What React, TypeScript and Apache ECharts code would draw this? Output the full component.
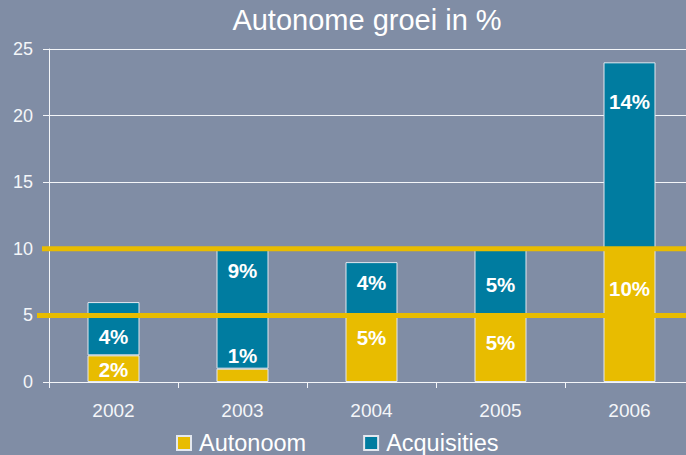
import React, { useEffect, useRef } from "react";
import * as echarts from "echarts";

const years = ["2002", "2003", "2004", "2005", "2006"];
const autonoom = [2, 1, 5, 5, 10];
const acquisities = [4, 9, 4, 5, 14];
const autonoomLabels = ["2%", "1%", "5%", "5%", "10%"];
const acquisitiesLabels = ["4%", "9%", "4%", "5%", "14%"];
const yTicks = [0, 5, 10, 15, 20, 25];
const referenceLevels = [10, 5];

// label vertical nudges (style only)
const autonoomLabelShift = [1, -20, -11, -6, -27];
const acquisitiesLabelShift = [8, -38, -6, 2, -54];

const BG = "#808DA5";
const YELLOW = "#E8BC00";
const TEAL = "#007CA0";
const FONT = 'Arial, "Liberation Sans", sans-serif';

export default function App() {
  const ref = useRef<HTMLDivElement>(null);

  useEffect(() => {
    document.body.style.margin = "0";
    document.body.style.overflow = "hidden";
    if (!ref.current) return;
    const chart = echarts.init(ref.current, undefined, { renderer: "svg" });

    const labelBase = {
      show: true,
      position: "inside",
      color: "#ffffff",
      fontSize: 20.5,
      fontWeight: "bold",
      fontFamily: FONT,
    };

    chart.setOption({
      animation: false,
      backgroundColor: BG,
      textStyle: { fontFamily: FONT },
      title: {
        text: "Autonome groei in %",
        left: 362,
        textAlign: "center",
        top: 0,
        textStyle: { color: "#ffffff", fontSize: 29, fontWeight: "normal", fontFamily: FONT },
      },
      legend: {
        left: 176,
        top: 431,
        padding: 0,
        itemWidth: 14,
        itemHeight: 14,
        itemGap: 57,
        icon: "rect",
        textStyle: { color: "#ffffff", fontSize: 23.5, fontFamily: FONT, padding: [0, 0, 0, 3] },
        data: ["Autonoom", "Acquisities"],
      },
      grid: { left: 49, top: 49, width: 645, height: 333, containLabel: false },
      xAxis: {
        type: "category",
        data: years,
        boundaryGap: true,
        axisLine: { lineStyle: { color: "#f4f6f9", width: 1 } },
        axisTick: { show: true, length: 6, lineStyle: { color: "#f4f6f9" } },
        axisLabel: { color: "#f4f6f9", fontSize: 19, margin: 19, fontFamily: FONT },
      },
      yAxis: {
        type: "value",
        min: yTicks[0],
        max: yTicks[yTicks.length - 1],
        interval: 5,
        axisLine: { show: true, lineStyle: { color: "#f4f6f9", width: 1 } },
        axisTick: { show: true, length: 6, lineStyle: { color: "#f4f6f9" } },
        axisLabel: { color: "#f4f6f9", fontSize: 18, margin: 16, fontFamily: FONT },
        splitLine: { show: true, lineStyle: { color: "#f4f6f9", width: 1 } },
      },
      series: [
        {
          name: "Autonoom",
          type: "bar",
          stack: "total",
          barWidth: 52,
          itemStyle: { color: YELLOW, borderColor: "#e4e8ef", borderWidth: 1 },
          data: autonoom.map((v, i) => ({
            value: v,
            label: {
              ...labelBase,
              formatter: autonoomLabels[i],
              offset: [0, autonoomLabelShift[i]],
            },
          })),
        },
        {
          name: "Acquisities",
          type: "bar",
          stack: "total",
          barWidth: 52,
          itemStyle: { color: TEAL, borderColor: "#e4e8ef", borderWidth: 1 },
          data: acquisities.map((v, i) => ({
            value: v,
            label: {
              ...labelBase,
              formatter: acquisitiesLabels[i],
              offset: [0, acquisitiesLabelShift[i]],
            },
          })),
        },
      ],
    });

    const starts = [42, 37];
    const graphics = referenceLevels.map((lvl, k) => {
      const y = chart.convertToPixel({ yAxisIndex: 0 }, lvl) as number;
      return {
        type: "line",
        z: 100,
        shape: { x1: starts[k], y1: y, x2: 700, y2: y },
        style: { stroke: YELLOW, lineWidth: 5 },
      };
    });
    chart.setOption({ graphic: graphics });

    return () => chart.dispose();
  }, []);

  return (
    <div style={{ width: 686, height: 455, overflow: "hidden" }}>
      <div ref={ref} style={{ width: 700, height: 455 }} />
    </div>
  );
}
